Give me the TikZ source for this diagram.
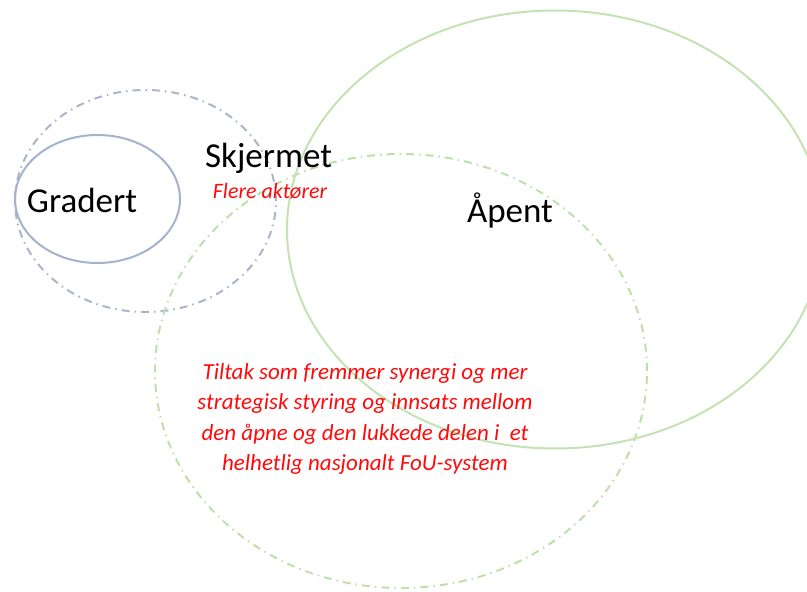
\documentclass[tikz,border=0pt]{standalone}
\usepackage{fontspec}
\setmainfont{Carlito}
\definecolor{gradblue}{RGB}{165,178,204}
\definecolor{skjermblue}{RGB}{172,180,204}
\definecolor{openGreen}{RGB}{196,226,178}
\definecolor{sharedGreen}{RGB}{192,224,170}
\definecolor{noteRed}{RGB}{255,10,10}
\begin{document}
\begin{tikzpicture}[
        x=1pt, y=-1pt,
        solidring/.style={line width=2pt},
        dashring/.style={line width=2pt, dash pattern=on 8pt off 5pt on 1.5pt off 5pt},
        title/.style={font=\fontsize{35}{42}\selectfont, anchor=base, inner sep=0pt},
        note/.style={font=\fontsize{22}{26}\selectfont\itshape, text=noteRed, anchor=base, inner sep=0pt},
        ]
        \useasboundingbox (0,0) rectangle (807,592);
        \clip (0,0) rectangle (807,592);

        \draw[dashring, skjermblue] (145.5,201) ellipse [x radius=130.5pt, y radius=111pt];
        \draw[dashring, sharedGreen] (401,371) ellipse [x radius=246pt, y radius=217pt];
        \draw[solidring, openGreen] (555,229.5) ellipse [x radius=268pt, y radius=219pt];
        \draw[solidring, gradblue] (97.5,199) ellipse [x radius=82.5pt, y radius=64pt];

        \node (gradert) at (82,212) [title] {Gradert};
        \node (skjermet) at (268.5,167) [title] {Skjermet};
        \node (aktorer) at (270,198) [note] {Flere aktører};
        \node (apent) at (510,222) [title] {Åpent};
        \node (tiltak) at (365,419) [note, font=\fontsize{23}{30.5}\selectfont\itshape, anchor=center, align=center]
            {Tiltak som fremmer synergi og mer\\
             strategisk styring og innsats mellom\\
             den åpne og den lukkede delen i\ \ et\\
             helhetlig nasjonalt FoU-system};
    \end{tikzpicture}
\end{document}
